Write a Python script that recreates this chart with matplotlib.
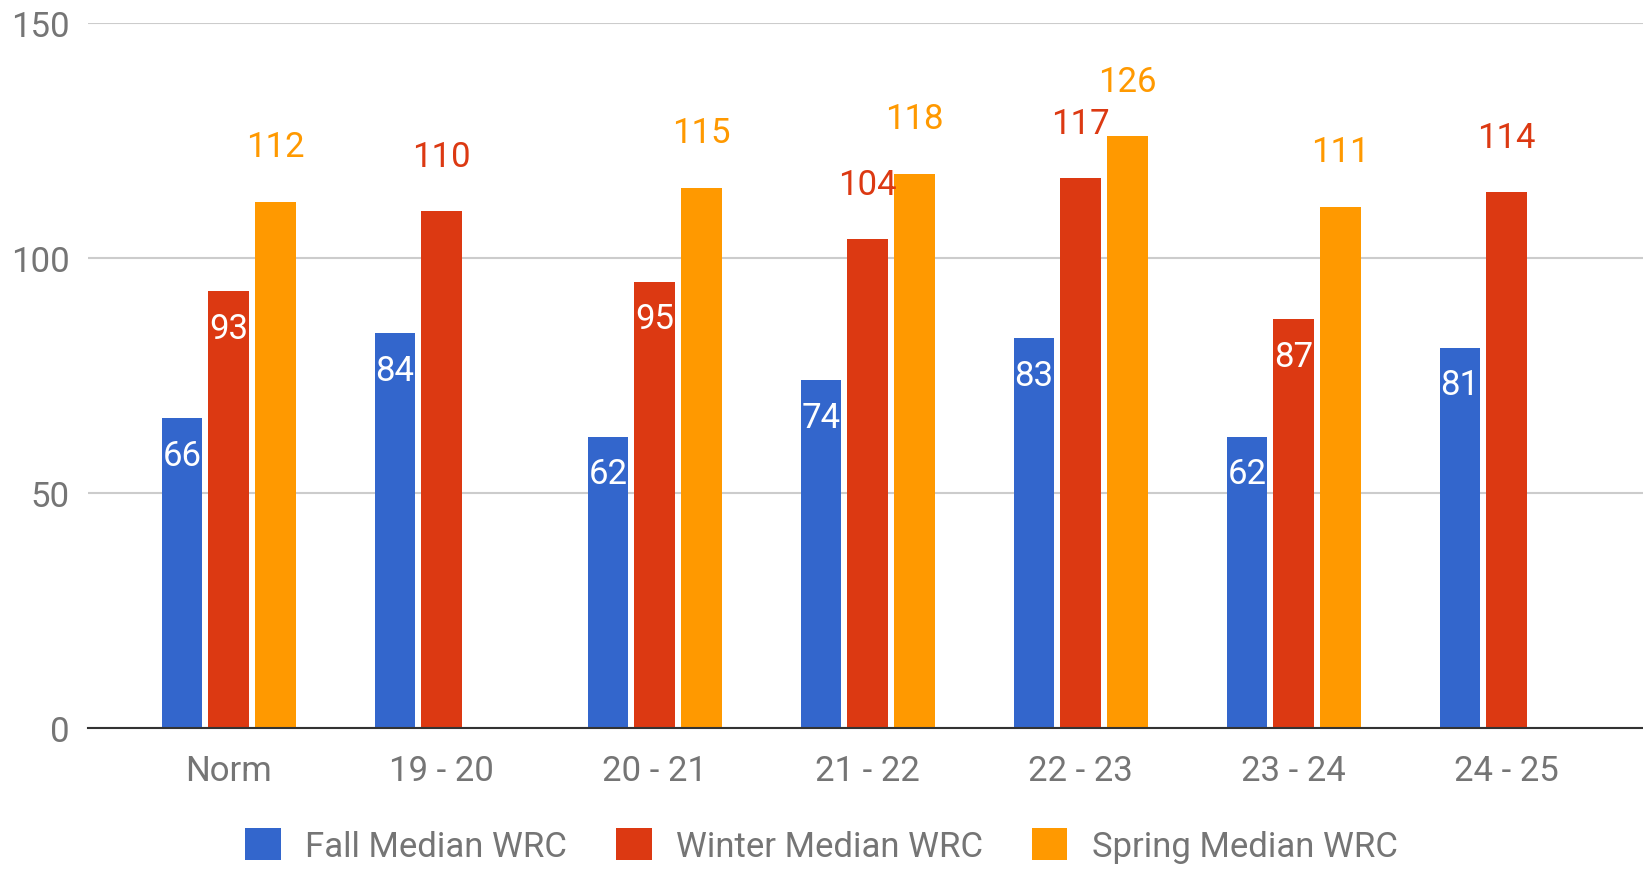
import numpy as np
import matplotlib
matplotlib.use("Agg")
import matplotlib.pyplot as plt
from matplotlib.patches import Patch

plt.rcParams['font.family'] = ['Roboto', 'DejaVu Sans']

# values
seasons = ['Norm', '19 - 20', '20 - 21', '21 - 22', '22 - 23', '23 - 24', '24 - 25']
fall = [66, 84, 62, 74, 83, 62, 81]
winter = [93, 110, 95, 104, 117, 87, 114]
spring = [112, np.nan, 115, 118, 126, 111, np.nan]
series_names = ['Fall Median WRC', 'Winter Median WRC', 'Spring Median WRC']
colors = ['#3366cc', '#dc3912', '#ff9900']

fs = 25

fig = plt.figure(figsize=(16.43, 8.70), dpi=100)
ax = fig.add_axes([0.0536, 0.162, 0.9464, 0.81])

x = np.arange(len(seasons))
w = 0.19
step = 0.22
for i, (vals, c) in enumerate(zip([fall, winter, spring], colors)):
    pos = x + (i - 1) * step
    ax.bar(pos, vals, width=w, color=c, zorder=3)
    for p, v in zip(pos, vals):
        if np.isnan(v):
            continue
        # labels sit inside the bar for fall and the shorter winter bars
        inside = (i == 0) or (i == 1 and v < 100)
        if inside:
            ax.text(p, v - 7.9, f'{v:.0f}', ha='center', va='center',
                    color='white', fontsize=fs, zorder=4)
        else:
            ax.text(p, v + 11.7, f'{v:.0f}', ha='center', va='center',
                    color=c, fontsize=fs, zorder=4)

ax.set_xlim(-0.66, 6.64)
ax.set_ylim(0, 150)
ax.set_yticks([0, 50, 100, 150])
ax.set_xticks(x)
ax.set_xticklabels(seasons)
ax.yaxis.grid(True, color='#cccccc', linewidth=1.5, zorder=0)
ax.tick_params(axis='both', length=0, labelsize=fs, labelcolor='#757575')
ax.tick_params(axis='x', pad=19)
ax.tick_params(axis='y', pad=13)
for s in ['top', 'right', 'left']:
    ax.spines[s].set_visible(False)
ax.spines['bottom'].set_color('#333333')
ax.spines['bottom'].set_linewidth(1.5)
ax.spines['bottom'].set_zorder(5)

handles = [Patch(facecolor=c, label=n) for c, n in zip(colors, series_names)]
leg = fig.legend(handles=handles, loc='center', bbox_to_anchor=(0.5, 0.027), ncol=3,
                 frameon=False, fontsize=fs, handlelength=1.03, handleheight=1.05,
                 handletextpad=0.7, columnspacing=1.4)
for t in leg.get_texts():
    t.set_color('#757575')

fig.savefig('out.png', dpi=100)
